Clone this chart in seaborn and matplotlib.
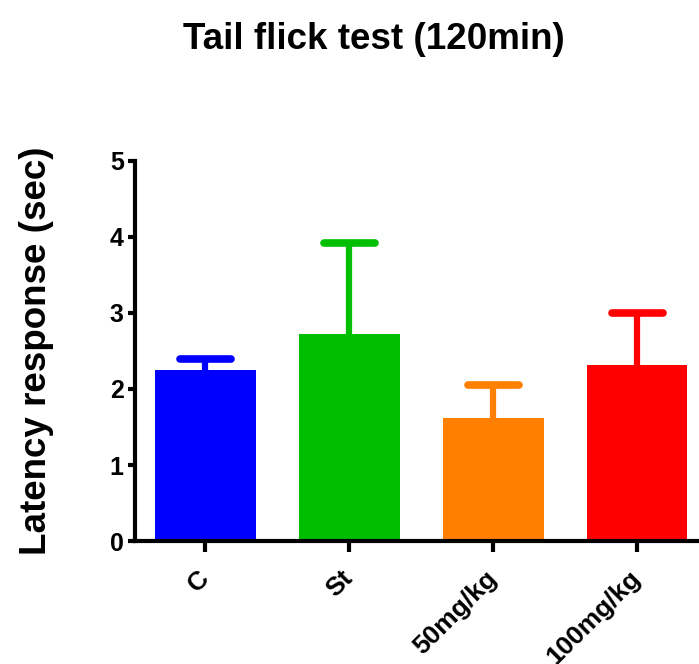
import matplotlib
matplotlib.use("Agg")
import matplotlib.pyplot as plt
import seaborn as sns
import numpy as np
import pandas as pd

groups = ["C", "St", "50mg/kg", "100mg/kg"]
means = [2.25, 2.72, 1.62, 2.32]
upper = [2.40, 3.92, 2.05, 3.00]
colors = ["#0000FF", "#00BF00", "#FF8000", "#FF0000"]

sns.set_style("ticks")
plt.rcParams['font.family'] = ['Liberation Sans', 'DejaVu Sans']
for k in ['text.color', 'axes.labelcolor', 'xtick.color', 'ytick.color', 'axes.edgecolor']:
    plt.rcParams[k] = 'black'

fig = plt.figure(figsize=(6.99, 6.64), dpi=100)
ax = fig.add_axes([0.193, 0.185, 0.807, 0.573])

df = pd.DataFrame({"group": groups, "mean": means})
sns.barplot(data=df, x="group", y="mean", hue="group", palette=colors,
            dodge=False, width=0.7, ax=ax, legend=False, saturation=1,
            linewidth=0)

xpos = np.arange(len(groups))
cap_half = 0.177
for i, (m, u, c) in enumerate(zip(means, upper, colors)):
    ax.vlines(xpos[i], m, u, color=c, linewidth=4.5, zorder=1)
    h = ax.hlines(u, xpos[i] - cap_half, xpos[i] + cap_half, color=c,
                  linewidth=5.5, zorder=1)
    h.set_capstyle('round')

ax.set_ylim(0, 5)
ax.set_xlim(-0.49, 3.43)
ax.set_yticks([0, 1, 2, 3, 4, 5])
ax.set_yticklabels([str(v) for v in range(6)], fontsize=18, fontweight='bold')
ax.set_xticks(xpos)
ax.set_xticklabels(groups, fontsize=19, fontweight='bold', rotation=45,
                   ha='right', va='center', rotation_mode='anchor')
ax.set_xlabel("")
ax.set_ylabel("Latency response (sec)", fontsize=26.5, fontweight='bold', labelpad=40)
ax.tick_params(axis='y', width=3, length=5, pad=3, direction='out')
ax.tick_params(axis='x', width=3, length=8, pad=16, direction='out')
for s in ['left', 'bottom']:
    ax.spines[s].set_linewidth(3)
sns.despine(ax=ax)

fig.suptitle("Tail flick test (120min)", fontsize=26.5, fontweight='bold', y=0.967, x=0.535)

fig.savefig("out.png", dpi=100)
